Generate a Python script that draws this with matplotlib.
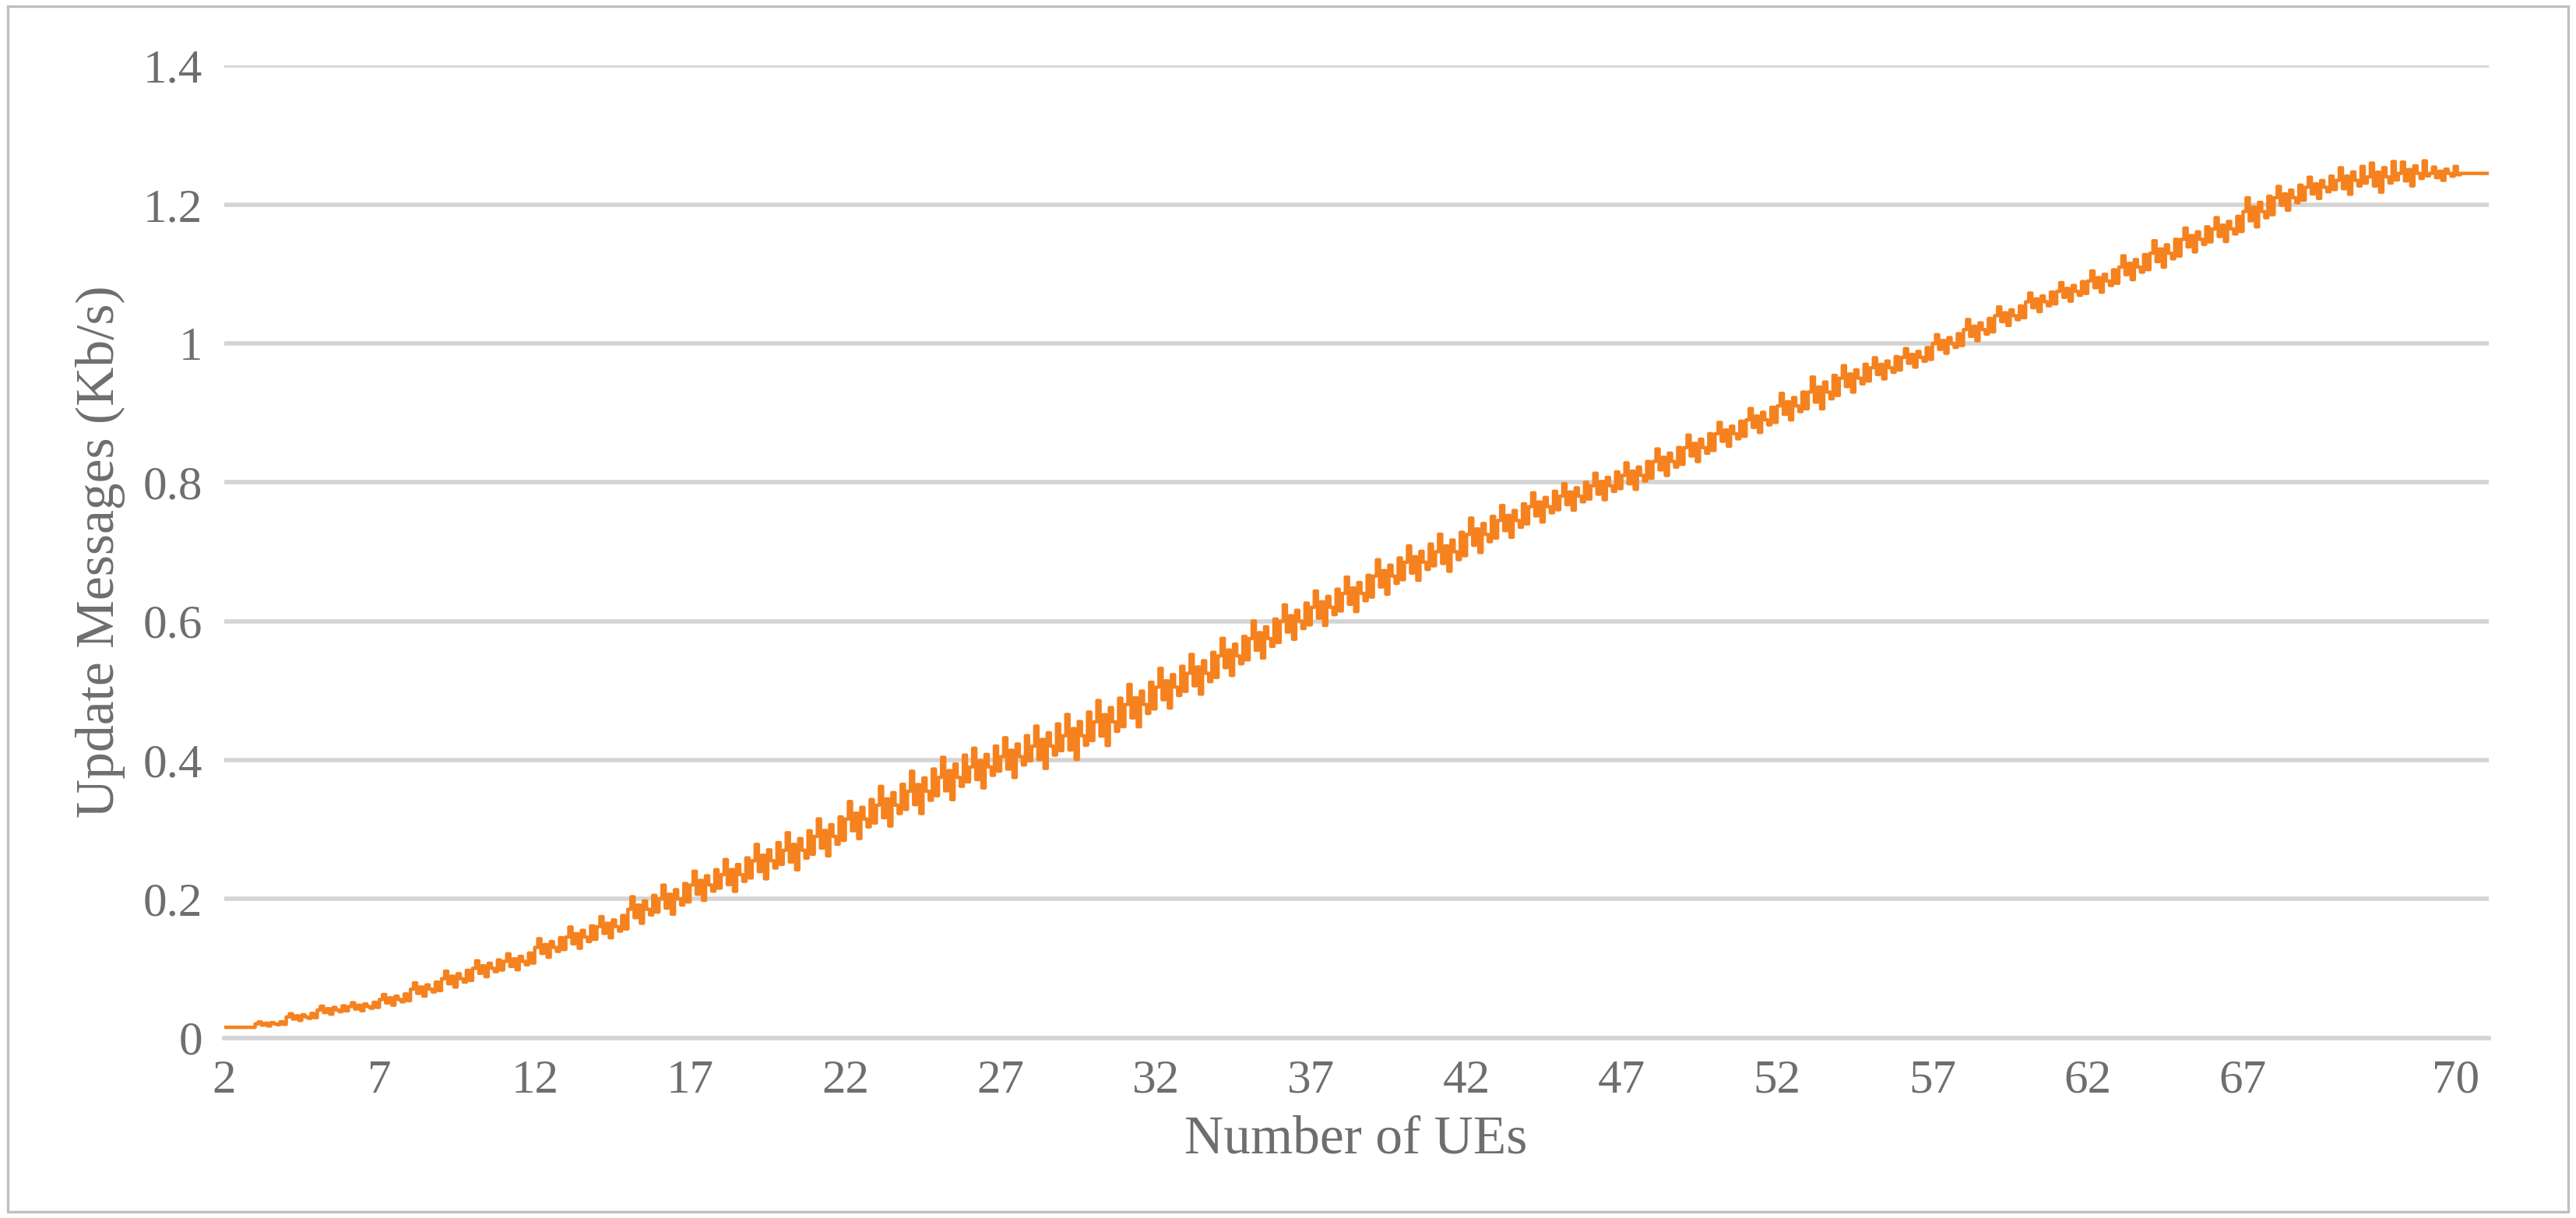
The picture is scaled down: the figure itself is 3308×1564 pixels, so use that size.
import matplotlib.pyplot as plt
import numpy as np

# level of update-message rate per number of UEs
ues = list(range(2, 75))
levels = [0.015, 0.02, 0.03, 0.04, 0.045, 0.055, 0.07, 0.085, 0.1, 0.11,
          0.13, 0.145, 0.16, 0.185, 0.2, 0.22, 0.235, 0.255, 0.27, 0.29,
          0.315, 0.335, 0.355, 0.375, 0.39, 0.405, 0.42, 0.435, 0.455, 0.48,
          0.505, 0.525, 0.55, 0.575, 0.6, 0.62, 0.64, 0.665, 0.685, 0.7,
          0.725, 0.745, 0.765, 0.78, 0.795, 0.81, 0.83, 0.85, 0.87, 0.89,
          0.91, 0.93, 0.95, 0.965, 0.98, 1.0, 1.02, 1.04, 1.06, 1.075,
          1.09, 1.11, 1.13, 1.15, 1.165, 1.19, 1.21, 1.225, 1.235, 1.24,
          1.245, 1.245, 1.245]
# jitter amplitude around each level
spread = [0.0, 0.003, 0.005, 0.006, 0.006, 0.008, 0.01, 0.012, 0.012, 0.012,
          0.014, 0.016, 0.016, 0.02, 0.022, 0.022, 0.024, 0.026, 0.028, 0.028,
          0.028, 0.03, 0.032, 0.032, 0.03, 0.03, 0.032, 0.034, 0.034, 0.032,
          0.03, 0.03, 0.028, 0.028, 0.026, 0.026, 0.026, 0.026, 0.026, 0.028,
          0.026, 0.024, 0.022, 0.02, 0.02, 0.02, 0.02, 0.02, 0.018, 0.018,
          0.02, 0.024, 0.02, 0.016, 0.014, 0.014, 0.016, 0.014, 0.014, 0.014,
          0.016, 0.018, 0.02, 0.018, 0.018, 0.022, 0.018, 0.016, 0.02, 0.022,
          0.018, 0.01, 0.0]
# sub-step pattern within each UE step
pattern = [0.0, 0.9, -0.6, 0.3, -1.0, 0.6, 0.0, -0.4, 1.0, -0.2]

xs, ys = [], []
for u, lv, sp in zip(ues, levels, spread):
    for k, p in enumerate(pattern):
        xs.append(u + k / len(pattern))
        ys.append(lv + p * sp)
xs.append(74.9)
ys.append(ys[-1])

tick_pos = list(range(2, 68, 5)) + [73.85]
tick_lab = [str(t) for t in range(2, 68, 5)] + ['70']

plt.rcParams['font.family'] = ['Liberation Serif', 'DejaVu Serif']
grey = '#6e6e6e'

fig = plt.figure(figsize=(16.54, 7.82), dpi=200)
ax = fig.add_axes([0.087, 0.148, 0.879, 0.798])
ax.step(xs, ys, where='post', color='#F5821F', lw=1.6)

ax.set_xlim(2, 74.9)
ax.set_ylim(0, 1.4)
ax.set_yticks(np.arange(0, 1.41, 0.2))
ax.set_yticklabels(['0', '0.2', '0.4', '0.6', '0.8', '1', '1.2', '1.4'])
ax.set_xticks(tick_pos)
ax.set_xticklabels(tick_lab)
ax.grid(axis='y', color='#d4d4d4', lw=2.0)
ax.set_axisbelow(True)
for s in ['top', 'right', 'left']:
    ax.spines[s].set_visible(False)
ax.spines['bottom'].set_color('#d4d4d4')
ax.spines['bottom'].set_linewidth(2.0)
ax.tick_params(length=0, labelsize=22, colors=grey, pad=10)
ax.set_xlabel('Number of UEs', fontsize=25, color=grey, labelpad=6)
ax.set_ylabel('Update Messages (Kb/s)', fontsize=25, color=grey, labelpad=8)

fig.patches.append(plt.Rectangle((0.003, 0.005), 0.994, 0.99, transform=fig.transFigure,
                                 fill=False, edgecolor='#bfbfbf', lw=1.2))
fig.savefig('out.png', dpi=200)
